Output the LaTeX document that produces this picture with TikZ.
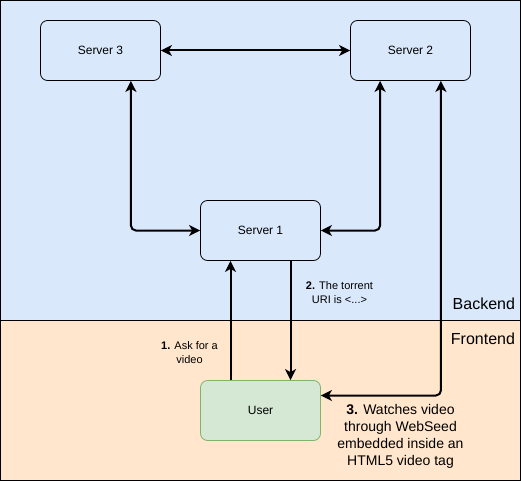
\documentclass[tikz,border=0pt]{standalone}
\usepackage{fontspec}
\setmainfont{Liberation Sans}
\usetikzlibrary{arrows.meta}
\definecolor{backfill}{HTML}{DAE8FC}
\definecolor{frontfill}{HTML}{FFE6CC}
\definecolor{userfill}{HTML}{D5E8D4}
\definecolor{userline}{HTML}{82B366}
\tikzset{
  server/.style={draw=black, line width=0.8pt, rounded corners=7pt,
    minimum width=120pt, minimum height=60pt, font=\fontsize{12}{14}\selectfont},
  userbox/.style={server, draw=userline, fill=userfill},
  tip/.tip={Stealth[length=11pt,width=11pt,inset=3pt]},
  link/.style={line width=2pt, rounded corners=5pt, -tip},
  biglink/.style={line width=2pt, rounded corners=5pt, tip-tip},
  steplabel/.style={align=center, font=\fontsize{11}{14}\selectfont},
  bigsteplabel/.style={align=center, font=\fontsize{14}{17}\selectfont},
  zonelabel/.style={anchor=east, font=\fontsize{16}{19}\selectfont},
}
\begin{document}
\begin{tikzpicture}[x=1pt, y=-1pt]
\useasboundingbox (-0.5,-0.5) rectangle (520.5,480.5);
% zones
\draw[fill=backfill, line width=1pt] (0,0) rectangle (520,320);
\draw[fill=frontfill, line width=1pt] (0,320) rectangle (520,480);
\node[zonelabel] (backend) at (518,303) {Backend};
\node[zonelabel] (frontend) at (518,338) {Frontend};
% nodes
\node[server] (s3) at (100,50) {Server 3};
\node[server] (s2) at (410,50) {Server 2};
\node[server] (s1) at (260,230) {Server 1};
\node[userbox] (u) at (260,410) {User};
% connectors
\draw[biglink] (s3) -- (s2);
\draw[biglink] ([xshift=-30pt]s3.south east) |- (s1.west);
\draw[biglink] ([xshift=30pt]s2.south west) |- (s1.east);
\draw[link] ([xshift=-30pt]u.north) -- ([xshift=-30pt]s1.south);
\draw[link] ([xshift=30pt]s1.south) -- ([xshift=30pt]u.north);
\draw[biglink] ([xshift=-30pt]s2.south east) |- ([yshift=15pt]u.east);
% step labels
\node[steplabel] (l1) at (189,352) {\textbf{1.} Ask for a\\video};
\node[steplabel] (l2) at (339,292) {\textbf{2.} The torrent\\URI is <...>};
\node[bigsteplabel] (l3) at (400,436) {\textbf{3.} Watches video\\through WebSeed\\embedded inside an\\HTML5 video tag};
\end{tikzpicture}
\end{document}
